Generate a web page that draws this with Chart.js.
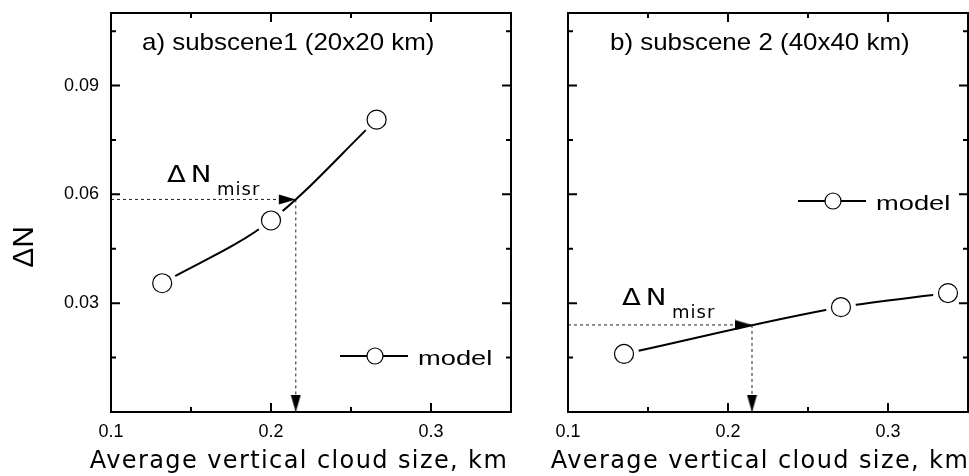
<!DOCTYPE html>
<html>
<head>
<meta charset="utf-8">
<script src="https://cdn.jsdelivr.net/npm/chart.js@4.4.0/dist/chart.umd.min.js"></script>
<style>
  html, body { margin: 0; padding: 0; background: #fff; }
  #wrap { position: relative; width: 969px; height: 476px; }
  .panel { position: absolute; top: 0; height: 476px; }
</style>
</head>
<body>
<div id="wrap">
  <div class="panel" style="left:0;width:520px"><canvas id="chartA" width="520" height="476"></canvas></div>
  <div class="panel" style="left:520px;width:449px"><canvas id="chartB" width="449" height="476"></canvas></div>
</div>
<script>
// subscene 1 (20x20 km): average vertical cloud size vs ΔN
const sizeA = [0.132, 0.2, 0.266];
const dnA = [0.0355, 0.0528, 0.0806];
const misrA = [0.2155, 0.0586]; // [cloud size, ΔN]

// subscene 2 (40x40 km)
const sizeB = [0.135, 0.2706, 0.3375];
const dnB = [0.016, 0.0289, 0.0328];
const misrB = [0.215, 0.024];

// axes
const xRange = [0.1, 0.35];
const yRange = [0, 0.11];
const xMajor = [0.1, 0.2, 0.3];
const xMinor = [0.15, 0.25];
const yMajor = [0.03, 0.06, 0.09];
const yMinor = [0.015, 0.045, 0.075, 0.105];

const xTitle = 'Average vertical cloud size, km';
const yTitle = 'ΔN';

Chart.defaults.font.family = '"Liberation Sans", Arial, sans-serif';
Chart.defaults.color = '#000';

// filled arrow head, tip sits in the middle of the image
function arrowHead() {
	const c = document.createElement('canvas');
	c.width = 36;
	c.height = 11;
	const g = c.getContext('2d');
	g.fillStyle = '#000';
	g.beginPath();
	g.moveTo(1, 0.5);
	g.lineTo(18, 5.5);
	g.lineTo(1, 10.5);
	g.closePath();
	g.fill();
	return c;
}
const arrow = arrowHead();

function text(ctx, str, x, y, font, o) {
	o = o || {};
	ctx.save();
	ctx.font = font;
	ctx.fillStyle = '#000';
	ctx.letterSpacing = (o.spacing || 0) + 'px';
	ctx.textAlign = o.align || 'left';
	ctx.textBaseline = 'alphabetic';
	ctx.translate(x, y);
	if (o.rotate) ctx.rotate(o.rotate);
	ctx.scale(o.sx || 1, 1);
	ctx.fillText(str, 0, 0);
	ctx.restore();
}

// box with inward ticks on all sides plus the panel texts
const framePlugin = {
	id: 'frame',
	afterDatasetsDraw(chart, args, p) {
		const { ctx, chartArea: a, scales: { x, y } } = chart;
		ctx.save();
		ctx.strokeStyle = '#000';
		ctx.lineWidth = 2;
		ctx.strokeRect(a.left, a.top, a.right - a.left, a.bottom - a.top);
		ctx.beginPath();
		const xt = (vals, len) => vals.forEach(v => {
			const px = x.getPixelForValue(v);
			ctx.moveTo(px, a.bottom); ctx.lineTo(px, a.bottom - len);
			ctx.moveTo(px, a.top); ctx.lineTo(px, a.top + len);
		});
		const yt = (vals, len) => vals.forEach(v => {
			const py = y.getPixelForValue(v);
			ctx.moveTo(a.left, py); ctx.lineTo(a.left + len, py);
			ctx.moveTo(a.right, py); ctx.lineTo(a.right - len, py);
		});
		xt(xMajor, 9); xt(xMinor, 5);
		yt(yMajor, 9); yt(yMinor, 5);
		ctx.stroke();

		// legend: line - circle - line
		const [lx, ly] = p.legend;
		ctx.beginPath();
		ctx.moveTo(lx, ly);
		ctx.lineTo(lx + 68, ly);
		ctx.stroke();
		ctx.beginPath();
		ctx.arc(lx + 35, ly, 8, 0, Math.PI * 2);
		ctx.fillStyle = '#fff';
		ctx.fill();
		ctx.lineWidth = 1.2;
		ctx.stroke();
		ctx.restore();

		text(ctx, 'model', lx + 78, ly + 9, '21px "Liberation Sans", Arial', { sx: 1.3 });
		text(ctx, p.title, p.titleAt[0], p.titleAt[1], '24px "Liberation Sans", Arial', { sx: 1.08 });
		text(ctx, 'ΔN', p.misrAt[0], p.misrAt[1], '23px "DejaVu Sans"', { spacing: 4, sx: 1.2 });
		text(ctx, 'misr', p.misrAt[0] + 50, p.misrAt[1] + 13, '18px "DejaVu Sans"', { spacing: 1 });
		text(ctx, xTitle, p.xTitleAt, 468, '24px "DejaVu Sans"', { align: 'center', spacing: 1.4 });
		if (p.yTitle) {
			text(ctx, yTitle, 33, 247, '30px "Liberation Sans", Arial', { align: 'center', rotate: -Math.PI / 2 });
		}
	}
};

function makePanel(id, sizes, dn, misr, p) {
	const pts = sizes.map((s, i) => ({ x: s, y: dn[i] }));
	const config = {
		type: 'line',
		data: {
			datasets: [{
				// open circles on top
				data: pts,
				showLine: false,
				pointRadius: 9.5,
				pointBackgroundColor: '#fff',
				pointBorderColor: '#000',
				pointBorderWidth: 1.2,
				order: 0
			}, {
				// model curve, white halo leaves a gap around each marker
				label: 'model',
				data: pts,
				borderColor: '#000',
				borderWidth: 2,
				cubicInterpolationMode: 'monotone',
				pointRadius: 15,
				pointBackgroundColor: '#fff',
				pointBorderWidth: 0,
				order: 1
			}, {
				data: [{ x: xRange[0], y: misr[1] }, { x: misr[0], y: misr[1] }],
				borderColor: '#222',
				borderWidth: 1,
				borderDash: [3, 3],
				pointRadius: [0, 9],
				pointStyle: arrow,
				pointRotation: 0,
				order: 2
			}, {
				data: [{ x: misr[0], y: misr[1] }, { x: misr[0], y: yRange[0] }],
				borderColor: '#222',
				borderWidth: 1,
				borderDash: [3, 3],
				pointRadius: [0, 9],
				pointStyle: arrow,
				pointRotation: 90,
				order: 2
			}]
		},
		options: {
			responsive: false,
			animation: false,
			layout: {
				autoPadding: false,
				padding: { top: 13, right: p.padRight, left: 0, bottom: 0 }
			},
			plugins: {
				legend: { display: false },
				tooltip: { enabled: false },
				frame: p
			},
			scales: {
				x: {
					type: 'linear',
					min: xRange[0],
					max: xRange[1],
					grid: { display: false, drawTicks: false },
					border: { display: false },
					afterBuildTicks: s => { s.ticks = xMajor.map(v => ({ value: v })); },
					afterFit: s => {
						s.height = 64;
						s.paddingLeft = 0;
						s.paddingRight = 0;
					},
					ticks: {
						padding: 9,
						font: { size: 18 },
						callback: v => String(+v.toFixed(2))
					}
				},
				y: {
					type: 'linear',
					min: yRange[0],
					max: yRange[1],
					grid: { display: false, drawTicks: false },
					border: { display: false },
					afterBuildTicks: s => { s.ticks = yMajor.map(v => ({ value: v })); },
					afterFit: s => {
						s.width = p.yWidth;
						s.paddingTop = 0;
						s.paddingBottom = 0;
					},
					ticks: {
						padding: 12,
						font: { size: 18 },
						callback: v => p.yLabels ? v.toFixed(2) : ''
					}
				}
			}
		},
		plugins: [framePlugin]
	};
	return new Chart(document.getElementById(id), config);
}

makePanel('chartA', sizeA, dnA, misrA, {
	yWidth: 111, padRight: 9, yLabels: true, yTitle: true,
	title: 'a) subscene1 (20x20 km)', titleAt: [142, 50],
	legend: [340, 356],
	misrAt: [167, 182],
	xTitleAt: 299
});

makePanel('chartB', sizeB, dnB, misrB, {
	yWidth: 48, padRight: 1, yLabels: false, yTitle: false,
	title: 'b) subscene 2 (40x40 km)', titleAt: [90, 50],
	legend: [278, 201],
	misrAt: [102, 305],
	xTitleAt: 240
});
</script>
</body>
</html>
